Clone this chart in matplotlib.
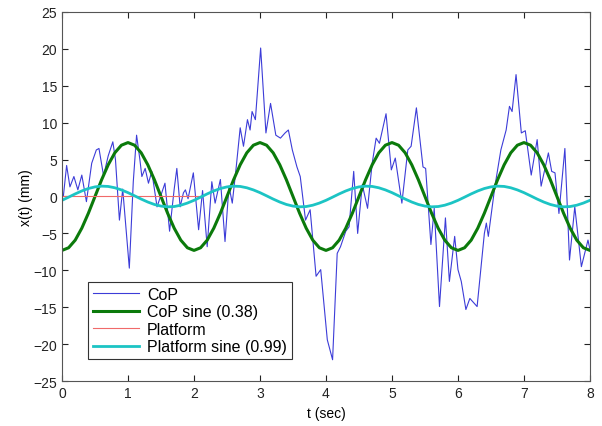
import numpy as np
import matplotlib.pyplot as plt

plt.rcParams['font.family'] = ['Liberation Sans', 'DejaVu Sans']

# CoP trace (t in sec, x in mm)
cop_t = [0.00, 0.02, 0.07, 0.12, 0.18, 0.24, 0.30, 0.37, 0.45, 0.52,
         0.56, 0.63, 0.70, 0.77, 0.81, 0.87, 0.92, 1.02, 1.08, 1.13,
         1.18, 1.21, 1.26, 1.31, 1.36, 1.44, 1.56, 1.63, 1.70, 1.74,
         1.79, 1.84, 1.87, 1.91, 1.99, 2.07, 2.13, 2.20, 2.27, 2.32,
         2.40, 2.47, 2.53, 2.58, 2.64, 2.70, 2.75, 2.81, 2.85, 2.88,
         2.93, 3.01, 3.09, 3.16, 3.24, 3.31, 3.38, 3.43, 3.49, 3.56,
         3.61, 3.69, 3.76, 3.85, 3.92, 4.02, 4.10, 4.17, 4.22, 4.30,
         4.35, 4.42, 4.48, 4.55, 4.63, 4.70, 4.76, 4.81, 4.91, 4.99,
         5.05, 5.15, 5.24, 5.29, 5.37, 5.47, 5.51, 5.54, 5.59, 5.64,
         5.72, 5.81, 5.87, 5.95, 6.00, 6.05, 6.12, 6.18, 6.29, 6.40,
         6.43, 6.46, 6.56, 6.65, 6.73, 6.78, 6.82, 6.88, 6.96, 7.02,
         7.11, 7.20, 7.26, 7.37, 7.42, 7.47, 7.53, 7.62, 7.69, 7.77,
         7.87, 7.97, 8.00]
cop_x = [0.2, 0.0, 4.2, 1.3, 2.7, 0.9, 2.9, -0.7, 4.5, 6.3,
         6.5, 2.8, 5.5, 7.4, 5.0, -3.2, 1.0, -9.7, 2.0, 8.3,
         5.0, 2.7, 3.8, 1.8, 3.4, -1.4, 1.8, -4.7, 1.0, 3.8,
         -1.4, 0.5, 0.9, -0.3, 3.2, -4.5, 0.8, -6.8, 2.0, -0.9,
         2.3, -6.1, 1.4, -0.9, 4.0, 9.3, 6.8, 10.4, 9.0, 11.5,
         10.4, 20.1, 8.6, 12.6, 8.3, 7.9, 8.6, 9.0, 6.3, 4.0,
         2.7, -3.2, -1.8, -10.8, -9.9, -19.4, -22.1, -7.7, -6.8, -4.7,
         -4.1, 3.4, -5.0, 1.6, -1.6, 4.5, 7.9, 7.2, 11.2, 3.6,
         5.2, -0.9, 6.3, 6.8, 12.0, 4.0, 3.8, 0.0, -6.5, -1.6,
         -14.9, -2.9, -11.5, -5.4, -9.9, -11.5, -15.3, -13.8, -14.9, -5.0,
         -3.6, -5.4, 1.4, 6.3, 9.0, 12.2, 11.5, 16.5, 8.6, 8.9,
         2.9, 7.7, 1.4, 5.9, 3.4, 3.2, -2.3, 6.5, -8.6, -1.4,
         -9.5, -5.9, -7.2]

# fitted sines, sampled every 0.1 s
sine_t = np.linspace(0, 8, 81)
cop_sine = [-7.30, -6.94, -5.91, -4.29, -2.26, 0.00, 2.26, 4.29, 5.91, 6.94,
            7.30, 6.94, 5.91, 4.29, 2.26, 0.00, -2.26, -4.29, -5.91, -6.94,
            -7.30, -6.94, -5.91, -4.29, -2.26, 0.00, 2.26, 4.29, 5.91, 6.94,
            7.30, 6.94, 5.91, 4.29, 2.26, 0.00, -2.26, -4.29, -5.91, -6.94,
            -7.30, -6.94, -5.91, -4.29, -2.26, 0.00, 2.26, 4.29, 5.91, 6.94,
            7.30, 6.94, 5.91, 4.29, 2.26, 0.00, -2.26, -4.29, -5.91, -6.94,
            -7.30, -6.94, -5.91, -4.29, -2.26, 0.00, 2.26, 4.29, 5.91, 6.94,
            7.30, 6.94, 5.91, 4.29, 2.26, 0.00, -2.26, -4.29, -5.91, -6.94,
            -7.30]
plat_sine = [-0.52, -0.09, 0.35, 0.75, 1.08, 1.30, 1.40, 1.36, 1.18, 0.89,
             0.52, 0.09, -0.35, -0.75, -1.08, -1.30, -1.40, -1.36, -1.18, -0.89,
             -0.52, -0.09, 0.35, 0.75, 1.08, 1.30, 1.40, 1.36, 1.18, 0.89,
             0.52, 0.09, -0.35, -0.75, -1.08, -1.30, -1.40, -1.36, -1.18, -0.89,
             -0.52, -0.09, 0.35, 0.75, 1.08, 1.30, 1.40, 1.36, 1.18, 0.89,
             0.52, 0.09, -0.35, -0.75, -1.08, -1.30, -1.40, -1.36, -1.18, -0.89,
             -0.52, -0.09, 0.35, 0.75, 1.08, 1.30, 1.40, 1.36, 1.18, 0.89,
             0.52, 0.09, -0.35, -0.75, -1.08, -1.30, -1.40, -1.36, -1.18, -0.89,
             -0.52]

# platform displacement
plat_t = [0.0, 2.1]
plat_x = [0.0, 0.0]

labels = ['CoP', 'CoP sine (0.38)', 'Platform', 'Platform sine (0.99)']


def main():
    fig = plt.figure(figsize=(6.02, 4.27), dpi=100)
    ax = fig.add_axes([0.103, 0.105, 0.877, 0.865])

    ax.plot(cop_t, cop_x, color='#3c3cd8', linewidth=0.8, label=labels[0])
    ax.plot(sine_t, cop_sine, color='#0b7a0b', linewidth=2.2, label=labels[1])
    ax.plot(plat_t, plat_x, color='#f06a6a', linewidth=0.8, label=labels[2])
    ax.plot(sine_t, plat_sine, color='#1cc4c4', linewidth=2.0, label=labels[3])

    ax.set_xlim(0, 8)
    ax.set_ylim(-25, 25)
    ax.set_xticks(range(0, 9))
    ax.set_yticks(range(-25, 26, 5))
    ax.set_yticklabels([str(v).replace('-', '\u2212') for v in range(-25, 26, 5)])
    ax.tick_params(direction='in', top=True, right=True, length=4,
                   labelsize=10, colors='#222222')
    for s in ax.spines.values():
        s.set_color('#555555')
        s.set_linewidth(0.8)

    ax.set_xlabel('t (sec)', fontsize=10)
    ax.set_ylabel('x(t) (mm)', fontsize=10, labelpad=0)

    leg = ax.legend(loc='lower left', bbox_to_anchor=(0.049, 0.06),
                    borderaxespad=0, fontsize=11.5, handlelength=2.9,
                    handletextpad=0.5, labelspacing=0.15, fancybox=False,
                    framealpha=1, edgecolor='#333333', borderpad=0.3)
    leg.get_frame().set_linewidth(0.8)

    fig.savefig('out.png', dpi=100)


if __name__ == "__main__":
    main()
